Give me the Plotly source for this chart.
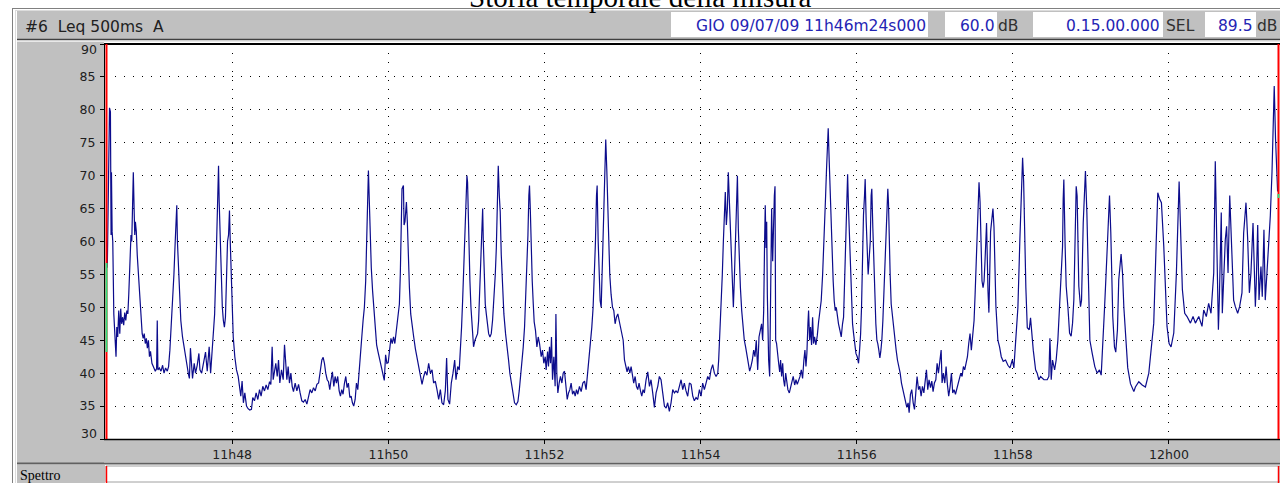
import pandas as pd
import plotly.graph_objects as go

# ---------------- data ----------------
start_time = "2009-07-09 11:46:24"

elapsed_s = [
    0.0, 0.5, 1.0, 1.7, 2.4, 2.9, 3.2, 3.7, 4.2, 5.0, 5.5, 6.1, 6.7, 7.3, 8.0, 8.8, 9.6, 10.3, 11.0, 11.8,
    12.6, 13.4, 14.2, 15.0, 15.8, 16.5, 17.4, 18.2, 18.8, 19.6, 20.0, 20.6, 21.1, 21.6, 22.3, 23.0, 24.3, 25.6, 26.8, 27.6,
    28.4, 29.2, 30.0, 30.8, 31.6, 32.4, 33.2, 34.3, 35.6, 36.9, 37.9, 38.4, 38.9, 40.0, 41.3, 42.5, 43.6, 44.8, 46.1, 47.1,
    48.1, 49.1, 50.1, 51.2, 52.2, 53.0, 53.4, 53.9, 54.5, 55.5, 56.5, 57.8, 59.1, 60.3, 61.4, 62.4, 63.1, 63.9, 65.5, 66.8,
    67.8, 69.1, 70.4, 71.2, 72.5, 74.2, 75.5, 76.8, 78.3, 79.4, 80.4, 81.4, 82.5, 83.5, 84.3, 85.0, 85.5, 86.0, 86.8, 87.6,
    88.4, 89.2, 90.0, 90.8, 91.6, 92.4, 93.2, 93.9, 94.5, 95.2, 96.0, 96.8, 98.0, 99.3, 100.6, 101.6, 102.6, 103.6, 104.6, 105.7,
    107.0, 108.2, 109.5, 110.8, 111.8, 113.1, 114.4, 115.7, 117.0, 118.2, 119.5, 120.8, 122.1, 123.4, 124.7, 125.7, 126.7, 127.5, 128.5, 129.5,
    130.6, 131.6, 132.6, 133.9, 135.2, 136.2, 137.0, 138.0, 139.0, 140.0, 141.1, 142.1, 143.1, 144.4, 145.7, 147.0, 148.2, 149.5, 150.8, 152.1,
    153.4, 154.6, 155.9, 157.2, 158.5, 159.8, 161.1, 162.4, 163.6, 164.9, 165.9, 166.9, 167.9, 169.0, 170.0, 171.0, 172.0, 173.0, 174.1, 175.1,
    176.1, 177.1, 178.2, 179.2, 180.2, 181.2, 182.3, 183.3, 184.3, 185.3, 186.4, 187.4, 188.4, 189.4, 190.5, 191.5, 192.5, 193.5, 194.5, 195.6,
    196.6, 197.6, 198.6, 199.1, 199.6, 200.1, 200.7, 201.4, 202.0, 202.9, 203.9, 205.0, 206.0, 207.0, 208.0, 209.0, 210.1, 211.1, 212.1, 212.9,
    213.9, 214.9, 215.9, 216.9, 218.0, 219.0, 220.0, 221.0, 222.2, 223.5, 224.5, 225.2, 226.0, 226.5, 227.6, 228.1, 228.8, 229.9, 230.6, 231.4,
    232.2, 233.2, 234.2, 235.5, 236.8, 238.0, 239.3, 240.6, 241.9, 243.2, 244.4, 245.7, 247.0, 248.3, 249.6, 250.8, 252.1, 253.4, 254.7, 256.0,
    257.2, 258.5, 259.8, 260.8, 261.8, 263.1, 264.4, 265.7, 267.0, 268.0, 269.3, 270.5, 271.6, 272.3, 273.1, 273.9, 274.9, 275.7, 276.4, 276.9,
    277.5, 278.0, 278.7, 279.5, 280.5, 281.5, 282.6, 283.6, 284.6, 285.4, 286.2, 286.9, 287.7, 288.5, 289.0, 289.7, 290.5, 291.3, 292.0, 293.1,
    294.1, 295.1, 296.1, 297.2, 298.2, 299.0, 299.7, 300.5, 301.3, 302.0, 302.8, 303.8, 304.8, 306.1, 307.4, 308.4, 309.4, 310.5, 311.7, 313.0,
    314.3, 315.6, 316.6, 317.6, 318.7, 319.7, 320.7, 321.7, 322.5, 323.3, 324.0, 324.5, 325.1, 325.8, 326.6, 327.4, 328.1, 329.1, 330.2, 331.2,
    332.2, 333.5, 334.5, 335.5, 336.6, 337.3, 338.4, 339.1, 339.9, 340.7, 341.4, 342.2, 343.2, 344.2, 344.8, 345.5, 346.3, 347.3, 348.3, 349.4,
    350.4, 351.4, 352.4, 353.5, 354.5, 355.5, 356.5, 357.6, 358.6, 359.6, 360.6, 361.6, 362.9, 364.2, 365.5, 366.8, 368.0, 369.3, 370.3, 371.4,
    372.4, 373.4, 374.4, 375.2, 376.0, 376.5, 377.3, 378.0, 378.8, 379.6, 380.3, 381.1, 381.9, 382.6, 383.1, 383.9, 384.7, 385.4, 386.2, 387.2,
    388.3, 389.3, 390.3, 391.3, 392.4, 393.4, 394.4, 395.4, 396.5, 397.5, 398.5, 399.5, 400.5, 401.6, 402.6, 403.6, 404.6, 405.7, 406.7, 407.7,
    408.7, 409.8, 410.8, 411.8, 412.8, 414.1, 415.4, 416.7, 417.9, 419.2, 420.5, 421.8, 423.1, 424.3, 425.6, 426.9, 428.2, 429.5, 430.7, 432.0,
    433.3, 434.6, 435.9, 437.1, 438.4, 439.7, 441.0, 442.3, 443.5, 444.8, 446.1, 447.4, 448.7, 450.0, 451.2, 452.5, 453.8, 455.1, 456.4, 457.6,
    458.9, 460.2, 461.5, 462.8, 464.0, 465.3, 466.6, 467.9, 469.2, 469.9, 470.9, 472.0, 472.7, 473.5, 474.3, 475.0, 475.8, 476.6, 477.3, 478.1,
    478.9, 479.6, 480.4, 481.2, 481.9, 482.7, 483.5, 484.3, 485.0, 485.8, 486.6, 487.6, 488.6, 489.6, 490.6, 491.7, 492.7, 493.7, 494.7, 495.8,
    496.8, 497.8, 498.8, 499.9, 500.9, 501.9, 502.9, 503.7, 504.5, 505.2, 505.7, 506.3, 506.8, 507.3, 507.8, 508.3, 509.1, 509.8, 510.6, 511.4,
    511.9, 512.7, 513.2, 513.7, 514.4, 515.2, 516.0, 516.8, 517.5, 518.3, 519.1, 519.8, 520.6, 521.4, 522.1, 523.1, 524.2, 525.2, 526.2, 527.2,
    528.3, 529.3, 530.3, 531.3, 532.4, 533.4, 534.4, 535.4, 536.2, 537.0, 537.7, 538.5, 539.0, 539.8, 540.5, 541.3, 542.1, 542.8, 543.6, 544.6,
    545.7, 546.7, 547.7, 548.7, 549.8, 550.5, 551.3, 552.1, 552.8, 553.6, 554.1, 554.9, 555.6, 556.4, 557.2, 557.9, 558.7, 559.5, 560.3, 561.0,
    562.0, 563.1, 564.1, 565.1, 565.9, 566.7, 567.4, 568.2, 569.0, 569.7, 570.5, 571.3, 572.0, 572.8, 573.6, 574.3, 575.4, 576.4, 577.4, 578.2,
    579.0, 579.7, 580.5, 581.2, 582.0, 582.5, 583.3, 584.1, 584.8, 585.6, 586.4, 587.1, 587.6, 588.4, 589.2, 589.9, 590.7, 591.5, 592.2, 593.0,
    593.8, 594.5, 595.3, 596.1, 596.9, 597.6, 598.4, 599.2, 599.9, 600.4, 600.9, 601.7, 602.5, 603.2, 604.0, 604.8, 605.5, 606.3, 607.3, 608.4,
    609.4, 610.4, 611.4, 612.5, 613.5, 614.5, 615.5, 616.3, 617.3, 618.3, 619.4, 620.4, 621.4, 622.4, 623.5, 624.5, 625.5, 626.5, 627.6, 628.6,
    629.6, 630.6, 631.6, 632.7, 633.7, 634.7, 635.7, 636.8, 637.8, 638.8, 639.8, 640.9, 641.6, 642.6, 643.7, 644.7, 645.7, 646.7, 647.8, 648.8,
    649.8, 650.8, 651.9, 652.9, 653.9, 654.9, 656.0, 657.0, 658.0, 659.0, 660.1, 661.1, 662.1, 663.1, 664.1, 665.2, 666.2, 667.0, 667.7, 668.5,
    669.3, 670.0, 670.8, 671.6, 672.3, 673.1, 673.9, 674.6, 675.8, 676.9, 677.6, 678.9, 680.7, 681.5, 682.2, 683.0, 684.5, 685.8, 687.1, 688.6,
    690.4, 692.2, 693.8, 695.6, 696.8, 698.4, 699.9, 701.4, 702.5, 703.5, 704.3, 705.0, 706.0, 707.1, 708.6, 709.6, 710.4, 711.7, 713.5, 714.7,
    716.0, 717.3, 719.9, 722.4, 723.7, 724.5, 725.5, 726.5, 728.1, 729.3, 730.6, 732.1, 733.4, 734.2, 734.7, 735.2, 736.2, 737.0, 738.3, 739.6,
    740.8, 741.9, 742.9, 743.7, 744.7, 745.4, 746.7, 748.0, 748.8, 750.1, 751.8, 752.9, 753.9, 755.2, 757.0, 759.0, 760.8, 762.6, 763.9, 765.2,
    766.4, 767.7, 769.3, 770.3, 771.3, 772.8, 774.1, 775.1, 776.4, 777.4, 779.2, 780.3, 781.3, 782.8, 784.3, 786.4, 789.0, 790.2, 792.8, 795.4,
    797.9, 800.5, 802.5, 804.3, 806.1, 807.4, 808.9, 810.2, 812.0, 813.5, 814.5, 816.1, 817.6, 819.7, 821.7, 823.8, 824.8, 826.3, 828.1, 829.9,
    832.5, 834.5, 836.3, 838.9, 841.4, 842.7, 844.7, 846.5, 848.3, 850.4, 851.6, 852.9, 854.0, 854.7, 855.7, 856.2, 857.0, 858.0, 859.3, 860.3,
    861.4, 862.7, 863.7, 864.7, 865.7, 867.0, 868.8, 870.3, 872.1, 873.4, 875.2, 876.5, 877.8, 879.0, 880.6, 882.4, 883.1, 884.2, 885.2, 886.7,
    887.7, 889.0, 890.0, 891.3, 892.6, 893.9, 895.2, 895.9, 896.9, 897.9, 898.7, 899.5,
]

leq_db = [
    56, 62.5, 71.5, 80.3, 79.7, 61, 70.5, 61.5, 60, 49, 46.5, 45.5, 42.5, 47, 45.5, 49.5, 46, 49.8, 47.5, 48.5,
    47.3, 49.2, 48, 49.5, 49, 52, 58, 61, 60, 67, 70.5, 65, 61, 63, 61.5, 58, 53.5, 50, 46, 45.3,
    46, 44.5, 45.3, 43.8, 45, 42.5, 43.3, 41.5, 41, 40.3, 40.7, 48, 40.5, 40.8, 40.3, 41.2, 40, 40.8, 40.3, 41,
    43.5, 47, 51, 55, 60, 65.5, 65.5, 60, 57, 52, 48, 45.5, 43.8, 42, 41, 39.8, 39.2, 43.8, 39.2, 41.5,
    40, 41.2, 43, 40.5, 40, 42, 43.2, 40.3, 44, 40, 43, 45, 49, 56, 63, 70, 71.5, 66, 60, 55,
    50, 48, 47, 48.5, 55, 60, 61, 64.7, 60, 55, 50, 45.5, 42.5, 40.5, 39.5, 38, 36.5, 38.8, 35.5, 37,
    35, 34.6, 34.4, 34.5, 36.3, 35.8, 37, 36, 37.5, 36.5, 38, 37.3, 38.2, 37.5, 38.7, 38.3, 44, 39, 40.5, 41.5,
    39.5, 42, 38.5, 40.5, 39, 44.3, 42, 39, 41, 38.5, 40, 38, 37.2, 38.5, 37.3, 38.3, 37, 35.8, 35.6, 36,
    35.3, 36.5, 37.5, 37, 37.8, 37.3, 38.3, 38.5, 40, 42, 42.4, 41.5, 40, 39, 38.7, 37.5, 39, 40.2, 38, 39.5,
    38.5, 39.5, 37.3, 36.5, 37.5, 36.8, 38.5, 39.5, 37.8, 38.5, 36.3, 36.5, 35.5, 35, 36, 38.5, 37.5, 40.5, 43, 45.5,
    48, 50, 54, 58, 64, 68.5, 70.8, 66, 61, 56, 52.5, 49.5, 46, 44.3, 43.3, 42.5, 41.3, 40.8, 40, 38.9,
    42.8, 41.5, 41.6, 43, 45.3, 44.5, 45.5, 44.5, 46.5, 49, 50.5, 55, 63, 68, 68.5, 62.5, 63, 66, 63, 57,
    53, 49, 47, 45.5, 43.7, 42.5, 41.2, 39.5, 38.3, 39.5, 40.3, 39.7, 41.5, 40, 40.5, 38.5, 38.8, 37.5, 36, 37.5,
    35.5, 35.2, 37.3, 42.3, 36, 35.3, 38.5, 40, 42, 39, 41, 40.5, 44, 47, 51, 55, 60.5, 64, 70, 69,
    62.5, 60, 54, 50, 47, 44, 45, 45.5, 46, 48, 52, 56, 62, 65, 60, 55, 50.5, 49, 47.5, 46,
    45.5, 46, 48, 51, 55, 59, 64, 71.5, 67, 64.5, 58, 53, 49, 46, 44, 42, 40, 38.5, 37, 35.5,
    35.2, 35.7, 37.3, 39.2, 41, 44, 47, 52, 56, 61, 67, 68.5, 65, 59, 54, 50.5, 47.8, 46.5, 44, 45.5,
    44.5, 42.5, 43.5, 41.5, 42.5, 40.5, 43.3, 41, 44, 41.5, 45.5, 39, 42.5, 38, 49, 40, 37, 38.5, 39.5, 38.5,
    40, 40.3, 38.5, 36, 37, 37.5, 38.5, 36.8, 37.3, 36.5, 37.5, 36.8, 38, 37.2, 38.5, 38.8, 37.5, 40, 42, 45,
    47, 50, 55, 60, 67, 68.5, 60, 56, 51, 50, 55, 60, 65, 71.5, 75.5, 71, 64.5, 59, 55, 52,
    50, 49.5, 47.5, 48.5, 49, 48, 47, 46, 45, 42, 41, 40.2, 41, 40, 41, 39.5, 38.5, 39.5, 38, 37.5,
    38.5, 37.3, 36.5, 37.5, 37, 39, 40.2, 38, 39, 37, 34.8, 37, 38, 39.5, 39, 37, 35, 34.7, 35.5, 34.2,
    35.5, 37.5, 37, 37.3, 37, 38, 39, 37.5, 38.5, 37.3, 36.5, 38.5, 38.3, 36.5, 35.8, 36.3, 36, 37.5, 36.5, 38.5,
    37.5, 38.5, 39.5, 39, 40.5, 41.3, 40, 39.5, 40, 42, 46, 50, 55, 60, 65, 67.5, 62.5, 65, 70.5, 66,
    60, 56, 52, 50, 54, 60, 64.5, 70, 62, 57, 53, 49.5, 47, 45, 44, 42.5, 41.5, 40.3, 41, 42,
    43.5, 42.5, 45, 40.5, 45.5, 46.5, 47.5, 45, 49.5, 60, 65.5, 59, 63, 52, 46, 42, 39.5, 49, 65, 57,
    63, 67, 68.4, 45, 44.5, 42.5, 41.5, 40.2, 42, 39.5, 41.5, 39, 38, 40, 38.5, 37.5, 37, 37.8, 38.5, 39.5,
    38.2, 39, 38.3, 38.9, 39.5, 40.5, 39.2, 42, 43.5, 41, 43, 47.5, 49.5, 45, 47, 44.3, 48.5, 44.5, 45.5, 44.3,
    45.7, 47.8, 49.5, 51, 55, 58, 63, 67, 71, 74, 77.2, 72, 67, 62, 58, 54, 51, 49.5, 50, 48.5,
    47.5, 46.5, 45.5, 47.5, 48.5, 54, 60, 67, 70.2, 65, 60, 54, 50, 47.5, 46, 44.5, 43, 42.5, 41.5, 43.5,
    46, 50, 58, 64, 67, 69.5, 63, 58, 55, 57.5, 60, 67, 68, 62, 56, 52, 47.5, 45, 44.5, 43.5,
    42.3, 43.3, 45, 48, 52, 56, 60, 65, 68, 66, 60, 55, 50.5, 49, 47.5, 46, 45, 43.5, 42, 41,
    40, 38.5, 37.5, 36.5, 35.5, 34.8, 35.5, 34, 36.8, 37.5, 35.5, 34.5, 37, 39.5, 37.5, 38, 36.5, 38, 37, 38.5,
    40.5, 37.5, 39, 37.8, 38.8, 37.2, 38.5, 39, 41.5, 40, 42.3, 43.5, 38.5, 40, 38.5, 41, 38.3, 36.5, 38, 40,
    37, 37.5, 36.8, 37.5, 38.5, 39, 40, 39.5, 41, 40.5, 41.5, 42.5, 44.5, 46, 43.5, 46, 48, 52, 56, 63,
    67.5, 69, 66, 60, 54, 53, 54, 57, 62.8, 52.5, 49.2, 61.5, 65, 62.2, 55.2, 50.1, 45, 44, 42.5, 41.8,
    42, 41.2, 40.8, 42, 40.8, 45, 50, 60.3, 67.9, 72.7, 69.1, 61.1, 53, 46.9, 46.6, 48.4, 46.1, 43.5, 40.5, 40,
    39, 39.5, 39, 39, 39.5, 45.3, 39, 42, 40.5, 42, 45, 50.1, 55.2, 59.2, 66.4, 69.4, 59.2, 53.2, 50.1, 46.1,
    45.6, 47.6, 51.2, 62.3, 68.4, 66.9, 53.2, 50.1, 51.1, 62.8, 70.7, 64.4, 53.2, 45, 43, 41, 40, 40.5, 39.7, 44,
    49.6, 55.2, 64.4, 67, 61.3, 48.6, 44, 43.2, 46.6, 54.2, 58.1, 55.2, 50.1, 45, 40.8, 38.4, 37.2, 37.9, 38.7, 38.2,
    37.9, 40, 43.5, 47.6, 59.3, 67.4, 66.4, 65.9, 59.3, 52.2, 47.1, 44.5, 44, 46.1, 55.2, 69.1, 62.3, 52.7, 49.1, 48.6,
    47.6, 48.6, 47.6, 48.6, 47.1, 49.6, 48.6, 50.6, 49.1, 55.2, 72.2, 60.3, 46.6, 51.1, 60.3, 64.4, 49.1, 55.2, 60.3, 62.3,
    55.2, 67, 61.3, 53.7, 51.1, 50.1, 49.1, 50.1, 52.2, 61.3, 65.9, 60.3, 52.2, 55.2, 62.8, 50.1, 53.7, 62.5, 51.1, 56.2,
    51.6, 61.8, 51.1, 55.2, 59.8, 63.9, 70.6, 75.6, 83.6, 75.6, 72.1, 67.6,
]

y_ticks = [30, 35, 40, 45, 50, 55, 60, 65, 70, 75, 80, 85, 90]
y_tick_text = ["", "35", "40", "45", "50", "55", "60", "65", "70", "75", "80", "85", ""]

header_left = "#6  Leq 500ms  A"
header_date = "GIO 09/07/09 11h46m24s000"
header_level = "60.0"
header_duration = "0.15.00.000"
header_sel = "89.5"
title_text = "Storia temporale della misura"

# ---------------- figure ----------------
W, H = 1280, 483
ML, MR, MT, MB = 106, 2, 44, 44
PW, PH = W - ML - MR, H - MT - MB


def px(x):
    return (x - ML) / PW


def py(y):
    return (H - MB - y) / PH


t0 = pd.Timestamp(start_time)
times = t0 + pd.to_timedelta(elapsed_s, unit="s")

fig = go.Figure(
    go.Scatter(
        x=times, y=leq_db, mode="lines",
        line=dict(color="#0c0c8c", width=1.2),
        hoverinfo="skip", showlegend=False,
    )
)

GRID = dict(showgrid=True, gridcolor="#000000", gridwidth=1, griddash="1px,8px")
TICKFONT = dict(family="DejaVu Sans", size=12.5, color="#202020")

fig.update_xaxes(
    type="date",
    range=[t0 - pd.Timedelta(seconds=1.0), t0 + pd.Timedelta(seconds=899.8)],
    tick0="2009-07-09 11:48:00", dtick=120000, tickformat="%Hh%M",
    ticks="outside", ticklen=4, tickcolor="#000000",
    tickfont=dict(family="DejaVu Sans", size=12.5, color="#202020"),
    zeroline=False, showline=False, **GRID,
)
fig.update_yaxes(
    range=[30, 90], tickmode="array", tickvals=y_ticks, ticktext=y_tick_text,
    ticks="outside", ticklen=5, tickcolor="#000000", ticklabelstandoff=2,
    tickfont=TICKFONT, zeroline=False, showline=False, **GRID,
)

shapes = []


def rect(x0, y0, x1, y1, fill, line=None, lw=0, layer="below"):
    shapes.append(dict(type="rect", xref="paper", yref="paper",
                       x0=px(x0), x1=px(x1), y0=py(y1), y1=py(y0),
                       fillcolor=fill, line=dict(color=line or fill, width=lw), layer=layer))


def hline(x0, x1, y, color, w=1, layer="below"):
    shapes.append(dict(type="line", xref="paper", yref="paper",
                       x0=px(x0), x1=px(x1), y0=py(y), y1=py(y),
                       line=dict(color=color, width=w), layer=layer))


def vline(x, y0, y1, color, w=1, layer="below"):
    shapes.append(dict(type="line", xref="paper", yref="paper",
                       x0=px(x), x1=px(x), y0=py(y0), y1=py(y1),
                       line=dict(color=color, width=w), layer=layer))


GRAY = "#c0c0c0"
# window frame
hline(12, 1280, 8.5, "#808080")
vline(12.5, 8, 483, "#808080")
hline(16, 1280, 10.5, "#dcdcdc")
vline(15.5, 10, 483, "#dcdcdc")
# header bar
rect(17, 11, 1280, 39, GRAY)
hline(17, 1280, 39.5, "#404040", 1.5)
hline(17, 1280, 41.5, "#e8e8e8", 1)
rect(671, 12, 928, 37, "#ffffff")
rect(945, 12, 997, 37, "#ffffff")
rect(1033, 12, 1163, 37, "#ffffff")
rect(1205, 12, 1256, 37, "#ffffff")
# left panel and bottom strip
rect(17, 42, 104, 463, GRAY)
rect(104, 440, 1280, 462, GRAY)
hline(17, 1280, 463.5, "#606060", 2)
# "Spettro" row
rect(17, 465, 105, 483, GRAY)
rect(106, 466, 1280, 482, "#ffffff", "#a0a0a0", 1)
vline(106.5, 466, 483, "#ff0000", 1.5, "above")
vline(1278.5, 466, 483, "#ff0000", 1.5, "above")
# plot frame and cursors
hline(104, 1280, 44, "#000000", 2, "above")
hline(104, 1280, 439.5, "#000000", 1.5, "above")
vline(104.5, 43, 440, "#000000", 1, "above")
vline(106.5, 44, 439, "#ff0000", 2, "above")
vline(106.5, 263, 352, "#30e080", 2, "above")
vline(1278.5, 44, 439, "#ff0000", 2, "above")
vline(1278.5, 194, 198, "#30e080", 2, "above")

annotations = []


def label(text, x, y, anchor="left", size=15, color="#202020", family="DejaVu Sans"):
    annotations.append(dict(text=text, xref="paper", yref="paper", x=px(x), y=py(y),
                            xanchor=anchor, yanchor="middle", showarrow=False,
                            font=dict(family=family, size=size, color=color),
                            borderpad=0))


BLUE = "#2424b4"
label(title_text, 640, -3, "center", 29, "#000000", "Liberation Serif")
label(header_left, 24, 27, "left", 15.5, "#202020")
label(header_date, 927, 26, "right", 15.5, BLUE)
label(header_level, 996, 26, "right", 15.5, BLUE)
label("dB", 997, 26, "left", 15.5, "#303030")
label(header_duration, 1161, 26, "right", 15.5, BLUE)
label("SEL", 1165, 26, "left", 15.5, "#303030")
label(header_sel, 1254, 26, "right", 15.5, BLUE)
label("dB", 1256, 26, "left", 15.5, "#303030")
label("90", 98, 50, "right", 12.5, "#202020")
label("30", 98, 433, "right", 12.5, "#202020")
label("Spettro", 19, 475, "left", 14, "#000000", "Liberation Serif")

fig.update_layout(
    width=W, height=H, autosize=False,
    margin=dict(l=ML, r=MR, t=MT, b=MB, pad=0),
    paper_bgcolor="#ffffff", plot_bgcolor="#ffffff",
    shapes=shapes, annotations=annotations, showlegend=False,
)

fig.write_html(
    "out.html",
    config={"displayModeBar": False, "staticPlot": True},
    post_script="document.body.style.margin='0';document.body.style.overflow='hidden';",
)
